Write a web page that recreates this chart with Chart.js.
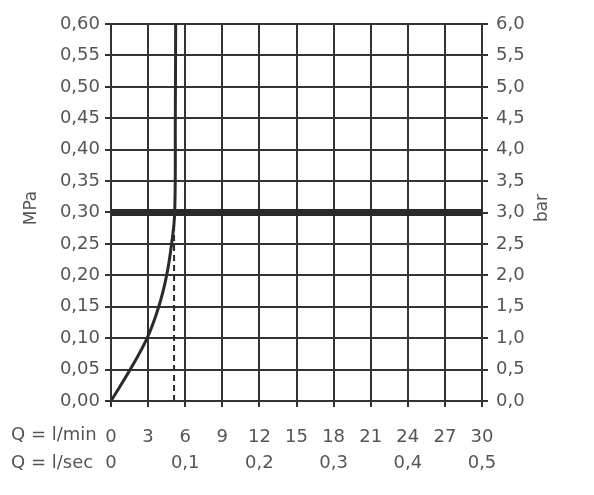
<!DOCTYPE html>
<html>
<head>
<meta charset="utf-8">
<script src="https://cdn.jsdelivr.net/npm/chart.js@4/dist/chart.umd.min.js"></script>
<style>
  html, body { margin: 0; padding: 0; background: #fff; }
  #wrap { width: 594px; height: 495px; position: relative; }
</style>
</head>
<body>
<div id="wrap"><canvas id="c"></canvas></div>
<script>
// flow in l/min vs pressure in MPa
const flowLpm = [0, 1.55, 2.92, 3.86, 4.5, 4.9, 5.15, 5.2, 5.23];
const pressureMpa = [0, 0.05, 0.10, 0.15, 0.20, 0.25, 0.30, 0.45, 0.60];

// reference line and operating point
const refPressure = 0.30;
const refFlow = 5.1;

// tick labels
const minTicks = [0, 3, 6, 9, 12, 15, 18, 21, 24, 27, 30];
const secTickPos = [0, 6, 12, 18, 24, 30];
const secTickLabels = ['0', '0,1', '0,2', '0,3', '0,4', '0,5'];

const ink = '#333';
const textCol = '#555';
const fontFam = '"DejaVu Sans", sans-serif';

const toPoints = (x, y) => x.map((v, i) => ({ x: v, y: y[i] }));
const comma = (v, d) => v.toFixed(d).replace('.', ',');

// extra text: axis names and the Q row labels
const labelsPlugin = {
    id: 'sideLabels',
    afterDraw(chart) {
        const ctx = chart.ctx;
        ctx.save();
        ctx.fillStyle = textCol;
        ctx.font = '17px ' + fontFam;
        ctx.textAlign = 'center';
        ctx.textBaseline = 'middle';
        [[32, 'MPa'], [543, 'bar']].forEach(([x, t]) => {
            ctx.save();
            ctx.translate(x, 208);
            ctx.rotate(-Math.PI / 2);
            ctx.fillText(t, 0, 0);
            ctx.restore();
        });
        ctx.font = '18px ' + fontFam;
        ctx.textAlign = 'left';
        ctx.fillText('Q = l/min', 11, 435);
        ctx.fillText('Q = l/sec', 11, 463);
        ctx.restore();
    }
};

new Chart(document.getElementById('c'), {
    type: 'line',
    data: {
        datasets: [
            {
                data: toPoints(flowLpm, pressureMpa),
                borderColor: '#2a2a2a',
                borderWidth: 3,
                pointRadius: 0,
                tension: 0.4
            },
            {
                data: [{ x: 0, y: refPressure }, { x: 30, y: refPressure }],
                borderColor: '#2a2a2a',
                borderWidth: 7,
                pointRadius: 0
            },
            {
                data: [{ x: refFlow, y: 0 }, { x: refFlow, y: 0.28 }],
                borderColor: '#2a2a2a',
                borderWidth: 2,
                borderDash: [6, 4],
                pointRadius: 0
            }
        ]
    },
    options: {
        responsive: true,
        maintainAspectRatio: false,
        animation: false,
        layout: { padding: { top: 24, bottom: 0, left: 0, right: 0 } },
        plugins: { legend: { display: false }, tooltip: { enabled: false } },
        scales: {
            x: {
                type: 'linear',
                position: 'bottom',
                min: 0, max: 30,
                afterBuildTicks: s => { s.ticks = minTicks.map(v => ({ value: v })); },
                ticks: {
                    color: textCol, font: { size: 18, family: fontFam },
                    padding: 20, maxRotation: 0, autoSkip: false,
                    callback: v => String(v)
                },
                grid: { color: ink, lineWidth: 2, tickLength: 6 },
                border: { color: ink, width: 2 },
                afterFit: s => { s.height = 48; }
            },
            x2: {
                type: 'linear',
                position: 'bottom',
                min: 0, max: 30,
                afterBuildTicks: s => { s.ticks = secTickPos.map(v => ({ value: v })); },
                ticks: {
                    color: textCol, font: { size: 18, family: fontFam },
                    padding: 4, maxRotation: 0, autoSkip: false,
                    callback: (v, i) => secTickLabels[i]
                },
                grid: { display: false, drawTicks: false },
                border: { display: false },
                afterFit: s => { s.height = 46; }
            },
            y: {
                type: 'linear',
                position: 'left',
                min: 0, max: 0.6,
                afterBuildTicks: s => {
                    const t = [];
                    for (let i = 0; i <= 12; i++) t.push({ value: i * 0.05 });
                    s.ticks = t;
                },
                ticks: {
                    color: textCol, font: { size: 18, family: fontFam },
                    padding: 5, callback: v => comma(v, 2)
                },
                grid: { color: ink, lineWidth: 2, tickLength: 6 },
                border: { color: ink, width: 2 },
                afterFit: s => { s.width = 111; }
            },
            y2: {
                type: 'linear',
                position: 'right',
                min: 0, max: 6,
                afterBuildTicks: s => {
                    const t = [];
                    for (let i = 0; i <= 12; i++) t.push({ value: i * 0.5 });
                    s.ticks = t;
                },
                ticks: {
                    color: textCol, font: { size: 18, family: fontFam },
                    padding: 8, callback: v => comma(v, 1)
                },
                grid: { color: ink, lineWidth: 2, tickLength: 6, drawOnChartArea: false },
                border: { color: ink, width: 2 },
                afterFit: s => { s.width = 112; }
            }
        }
    },
    plugins: [labelsPlugin]
});
</script>
</body>
</html>
